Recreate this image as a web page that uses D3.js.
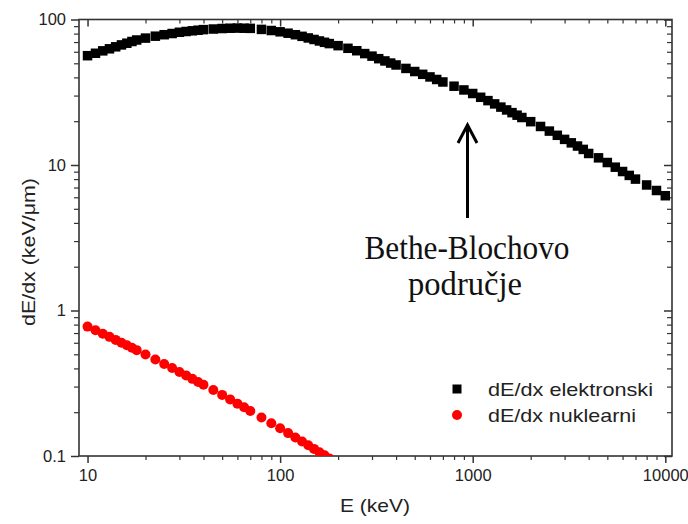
<!DOCTYPE html>
<html>
<head>
<meta charset="utf-8">
<script src="https://cdn.jsdelivr.net/npm/d3@7"></script>
<style>
  html, body { margin: 0; padding: 0; background: #fff; }
  svg { display: block; }
</style>
</head>
<body>
<svg id="chart" width="688" height="524"></svg>
<script>
// ---- data ----
const energiesE = [10,11,12,13,14,15,16,17,18,20,22.5,25,27.5,30,32.5,35,37.5,40,45,50,55,60,65,70,80,90,
  100,110,120,130,140,150,160,170,180,200,225,250,275,300,325,350,375,400,450,500,550,600,650,700,800,900,
  1000,1100,1200,1300,1400,1500,1600,1700,1800,2000,2250,2500,2750,3000,3250,3500,3750,4000,4500,5000,5500,6000,6500,7000,8000,9000,10000];
const electronic = [56.4,58.6,60.9,62.9,64.9,66.9,68.7,70.6,72.3,74.5,76.8,78.6,80.1,81.7,82.7,83.6,84.4,85.2,86.0,86.7,87.1,87.3,87.1,86.9,85.5,84.0,
  82.3,80.5,78.6,76.6,74.7,72.9,71.2,69.7,68.3,66.1,63.4,61.0,58.3,56.0,53.8,51.9,50.2,48.7,46.1,43.9,42.0,40.3,38.7,37.2,34.8,32.8,
  31.0,29.2,27.7,26.3,25.0,23.9,22.9,22.0,21.2,19.85,18.4,17.1,16.0,15.0,14.2,13.5,12.8,12.0,11.2,10.4,9.66,9.02,8.48,8.00,7.29,6.68,6.15];
const energiesN = [10,11,12,13,14,15,16,17,18,20,22.5,25,27.5,30,32.5,35,37.5,40,45,50,55,60,65,70,80,90,
  100,110,120,130,140,150,160,170,180,200];
const nuclear = [0.775,0.731,0.692,0.659,0.628,0.601,0.577,0.554,0.534,0.498,0.460,0.429,0.402,0.378,0.358,0.339,0.323,0.309,0.284,0.263,0.245,0.229,0.216,0.204,0.184,0.168,
  0.155,0.1437,0.1341,0.1257,0.1184,0.1119,0.1061,0.1010,0.0963,0.088];
const xMajor = [10,100,1000,10000];
const xMajorLabels = ["10","100","1000","10000"];
const yMajor = [0.1,1,10,100];
const yMajorLabels = ["0.1","1","10","100"];
const seriesNames = ["dE/dx elektronski","dE/dx nuklearni"];
const annotationLines = ["Bethe-Blochovo","područje"];

// ---- layout ----
const svg = d3.select("#chart");
const L = 79, R = 672, T = 19.5, B = 456;
const x = d3.scaleLog().domain([9.03, 10834]).range([L, R]);
const y = d3.scaleLog().domain([0.1, 100]).range([B, T]);

const minorOf = (dom) => {
  const out = [];
  for (let p = -2; p <= 5; p++) for (let m = 2; m <= 9; m++) {
    const v = m * Math.pow(10, p);
    if (v >= dom[0] && v <= dom[1]) out.push(+v.toPrecision(3));
  }
  return out;
};
const xMinor = minorOf(x.domain());
const yMinor = minorOf(y.domain());
const axisColor = "#333";
const font = "'Liberation Sans', Arial, sans-serif";

function styleAxis(g, w) {
  g.select(".domain").remove();
  g.selectAll("line").attr("stroke", axisColor).attr("stroke-width", w);
  g.selectAll("text").attr("fill", "#222").style("font-family", font).style("font-size", "16.5px");
}

// bottom axis (outward)
svg.append("g").attr("transform", `translate(0,${B})`)
  .call(d3.axisBottom(x).tickValues(xMajor).tickSize(7).tickPadding(6).tickFormat((d,i) => xMajorLabels[i]))
  .call(g => styleAxis(g, 1.5));
svg.append("g").attr("transform", `translate(0,${B})`)
  .call(d3.axisBottom(x).tickValues(xMinor).tickSize(4).tickFormat(""))
  .call(g => styleAxis(g, 1.2));
// top axis (inward)
svg.append("g").attr("transform", `translate(0,${T})`)
  .call(d3.axisTop(x).tickValues(xMajor).tickSize(-7).tickFormat(""))
  .call(g => styleAxis(g, 1.5));
svg.append("g").attr("transform", `translate(0,${T})`)
  .call(d3.axisTop(x).tickValues(xMinor).tickSize(-4).tickFormat(""))
  .call(g => styleAxis(g, 1.2));
// left axis (outward)
svg.append("g").attr("transform", `translate(${L},0)`)
  .call(d3.axisLeft(y).tickValues(yMajor).tickSize(8).tickPadding(5).tickFormat((d,i) => yMajorLabels[i]))
  .call(g => styleAxis(g, 1.5));
svg.append("g").attr("transform", `translate(${L},0)`)
  .call(d3.axisLeft(y).tickValues(yMinor).tickSize(5).tickFormat(""))
  .call(g => styleAxis(g, 1.2));
// right axis (inward)
svg.append("g").attr("transform", `translate(${R},0)`)
  .call(d3.axisRight(y).tickValues(yMajor).tickSize(-8).tickFormat(""))
  .call(g => styleAxis(g, 1.5));
svg.append("g").attr("transform", `translate(${R},0)`)
  .call(d3.axisRight(y).tickValues(yMinor).tickSize(-5).tickFormat(""))
  .call(g => styleAxis(g, 1.2));

// frame
svg.append("rect").attr("x", L).attr("y", T).attr("width", R - L).attr("height", B - T)
  .attr("fill", "none").attr("stroke", axisColor).attr("stroke-width", 1.6);

// clip
svg.append("clipPath").attr("id", "clip").append("rect")
  .attr("x", L).attr("y", T).attr("width", R - L).attr("height", B - T);
const plot = svg.append("g").attr("clip-path", "url(#clip)");

// electronic: black squares
const sq = 9.5;
plot.selectAll("rect.el").data(energiesE).join("rect").attr("class", "el")
  .attr("x", d => x(d) - sq / 2)
  .attr("y", (d, i) => y(electronic[i]) - sq / 2)
  .attr("width", sq).attr("height", sq).attr("fill", "#000");

// nuclear: red circles
plot.selectAll("circle.nu").data(energiesN).join("circle").attr("class", "nu")
  .attr("cx", d => x(d))
  .attr("cy", (d, i) => y(nuclear[i]))
  .attr("r", 5).attr("fill", "#ff0000");

// axis titles
svg.append("text").attr("x", 375).attr("y", 512).attr("text-anchor", "middle")
  .style("font-family", font).style("font-size", "19px").attr("fill", "#222")
  .attr("textLength", 70).attr("lengthAdjust", "spacingAndGlyphs")
  .text("E (keV)");
svg.append("text").attr("transform", "translate(35,252) rotate(-90)").attr("text-anchor", "middle")
  .style("font-family", font).style("font-size", "19px").attr("fill", "#222")
  .attr("textLength", 148).attr("lengthAdjust", "spacingAndGlyphs")
  .text("dE/dx (keV/μm)");

// legend
const lg = svg.append("g");
lg.append("rect").attr("x", 457 - 4.5).attr("y", 389 - 4.5).attr("width", 9).attr("height", 9).attr("fill", "#000");
lg.append("circle").attr("cx", 457).attr("cy", 415).attr("r", 5).attr("fill", "#ff0000");
lg.append("text").attr("x", 488).attr("y", 396)
  .style("font-family", font).style("font-size", "19px").attr("fill", "#222")
  .attr("textLength", 165).attr("lengthAdjust", "spacingAndGlyphs").text(seriesNames[0]);
lg.append("text").attr("x", 488).attr("y", 422)
  .style("font-family", font).style("font-size", "19px").attr("fill", "#222")
  .attr("textLength", 148).attr("lengthAdjust", "spacingAndGlyphs").text(seriesNames[1]);

// annotation arrow
const ax = 467.5;
svg.append("line").attr("x1", ax).attr("x2", ax).attr("y1", 218).attr("y2", 126)
  .attr("stroke", "#000").attr("stroke-width", 3);
svg.append("path").attr("d", `M${ax - 9.5},${143} L${ax},${125} L${ax + 9.5},${143}`)
  .attr("fill", "none").attr("stroke", "#000").attr("stroke-width", 3).attr("stroke-linejoin", "miter");

const serif = "'Liberation Serif', 'Times New Roman', serif";
svg.append("text").attr("x", 467).attr("y", 259).attr("text-anchor", "middle")
  .style("font-family", serif).style("font-size", "33px").attr("fill", "#111")
  .attr("textLength", 205).attr("lengthAdjust", "spacingAndGlyphs").text(annotationLines[0]);
svg.append("text").attr("x", 465).attr("y", 295).attr("text-anchor", "middle")
  .style("font-family", serif).style("font-size", "33px").attr("fill", "#111")
  .attr("textLength", 114).attr("lengthAdjust", "spacingAndGlyphs").text(annotationLines[1]);
</script>
</body>
</html>
